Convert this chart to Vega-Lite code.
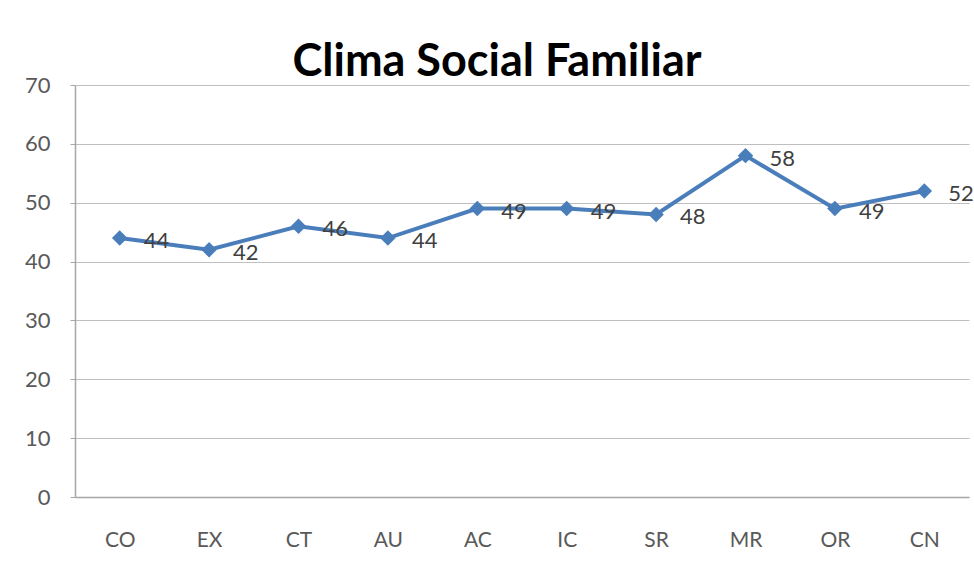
{
  "$schema": "https://vega.github.io/schema/vega-lite/v6.json",
  "width": 894,
  "height": 412,
  "autosize": {"type": "none"},
  "padding": {"left": 75, "top": 85, "right": 5, "bottom": 66},
  "background": "white",
  "title": {
    "text": "Clima Social Familiar",
    "font": "Lato",
    "fontSize": 45,
    "fontWeight": "bold",
    "color": "#000000",
    "anchor": "middle",
    "offset": 2,
    "dx": -25,
    "dy": 13
  },
  "config": {
    "view": {"stroke": null},
    "font": "Lato"
  },
  "data": {
    "values": [
      {"cat": "CO", "val": 44},
      {"cat": "EX", "val": 42},
      {"cat": "CT", "val": 46},
      {"cat": "AU", "val": 44},
      {"cat": "AC", "val": 49},
      {"cat": "IC", "val": 49},
      {"cat": "SR", "val": 48},
      {"cat": "MR", "val": 58},
      {"cat": "OR", "val": 49},
      {"cat": "CN", "val": 52}
    ]
  },
  "encoding": {
    "x": {
      "field": "cat",
      "type": "nominal",
      "sort": null,
      "scale": {"type": "point", "padding": 0.5},
      "axis": {
        "title": null,
        "labelAngle": 0,
        "labelFont": "Lato",
        "labelFontSize": 21,
        "labelColor": "#595959",
        "labelPadding": 32,
        "ticks": false,
        "domainColor": "#a6a6a6",
        "domainWidth": 1.5,
        "grid": false
      }
    },
    "y": {
      "field": "val",
      "type": "quantitative",
      "scale": {"domain": [0, 70], "nice": false},
      "axis": {
        "title": null,
        "values": [0, 10, 20, 30, 40, 50, 60, 70],
        "labelFont": "Lato",
        "labelFontSize": 22,
        "labelColor": "#595959",
        "labelPadding": 20,
        "tickSize": 5,
        "tickColor": "#a6a6a6",
        "domainColor": "#a6a6a6",
        "domainWidth": 1.5,
        "gridColor": "#bfbfbf",
        "gridWidth": 1.2
      }
    }
  },
  "layer": [
    {
      "mark": {"type": "line", "color": "#4a7ebb", "strokeWidth": 4}
    },
    {
      "mark": {"type": "point", "shape": "diamond", "filled": true, "color": "#4a7ebb", "size": 240, "opacity": 1}
    },
    {
      "mark": {"type": "text", "align": "left", "baseline": "middle", "dx": 24, "dy": 3, "font": "Lato", "fontSize": 22, "color": "#404040"},
      "encoding": {"text": {"field": "val", "type": "quantitative"}}
    }
  ]
}
